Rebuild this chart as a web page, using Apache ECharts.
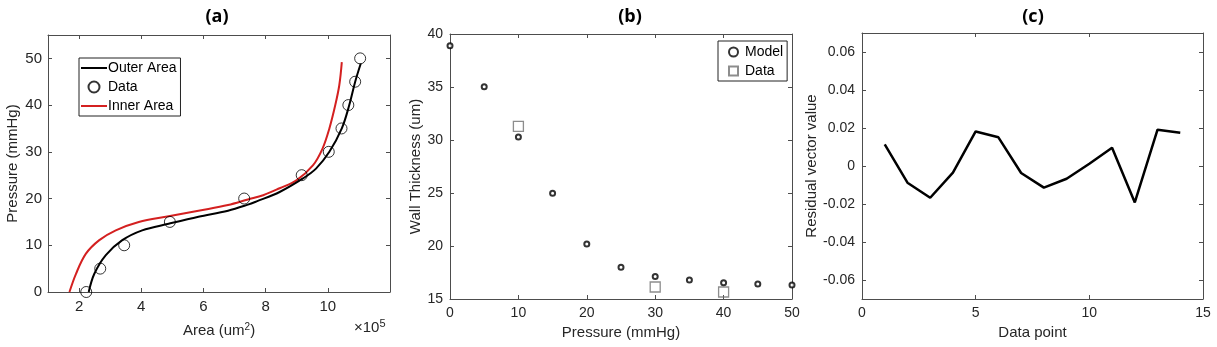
<!DOCTYPE html>
<html>
<head>
<meta charset="utf-8">
<script src="https://cdn.jsdelivr.net/npm/echarts@6/dist/echarts.min.js"></script>
<style>
  html, body { margin: 0; padding: 0; background: #fff; }
  #chart { width: 1217px; height: 347px; }
</style>
</head>
<body>
<div id="chart"></div>
<script>
// (a) pressure vs area (x in units of 1e5 um^2)
const dataArea = [2.23, 2.68, 3.45, 4.92, 7.31, 9.16, 10.03, 10.44, 10.66, 10.88, 11.04]
const dataPressure = [0, 5, 10, 15, 20, 25, 30, 35, 40, 45, 50]
const outerX = [2.31, 2.49, 2.86, 3.39, 4.03, 4.88, 5.84, 6.79, 7.43, 7.71, 8.45, 9.2, 9.62, 10.05, 10.45, 10.69, 10.88, 11.06]
const outerY = [0, 3.9, 7.9, 11.1, 13.2, 14.6, 16.1, 17.4, 18.7, 19.4, 21.4, 24.3, 26.4, 30, 35, 40, 45, 48.9]
const innerX = [1.69, 1.9, 2.22, 2.65, 3.18, 3.92, 4.88, 5.84, 6.79, 7.43, 7.92, 8.45, 8.99, 9.52, 9.83, 10.05, 10.24, 10.37, 10.45]
const innerY = [0, 3.9, 8.2, 11.1, 13.2, 15, 16.2, 17.4, 18.6, 19.8, 20.7, 22.2, 23.9, 27.1, 30.7, 35, 40, 44.3, 49.2]

// (b) wall thickness vs pressure
const modelPressure = [0, 5, 10, 15, 20, 25, 30, 35, 40, 45, 50]
const modelThickness = [38.9, 35.03, 30.28, 24.97, 20.2, 18.0, 17.13, 16.79, 16.54, 16.41, 16.31]
const measPressure = [10, 30, 40]
const measThickness = [31.28, 16.13, 15.66]

// (c) residuals
const pointIndex = [1, 2, 3, 4, 5, 6, 7, 8, 9, 10, 11, 12, 13, 14]
const residual = [0.0114, -0.0088, -0.0167, -0.0035, 0.0182, 0.0151, -0.0037, -0.0114, -0.0067, 0.0012, 0.0096, -0.0192, 0.0191, 0.0175]

// tick labels
const ticksAX = [2, 4, 6, 8, 10]
const ticksAY = [0, 10, 20, 30, 40, 50]
const ticksBX = [0, 10, 20, 30, 40, 50]
const ticksBY = [15, 20, 25, 30, 35, 40]
const ticksCX = [0, 5, 10, 15]
const ticksCY = [-0.06, -0.04, -0.02, 0, 0.02, 0.04, 0.06]

const font = 'Liberation Sans, Arial, sans-serif'
const axisCol = '#4d4d4d'
const textCol = '#262626'

const zip = (a, b) => a.map((v, i) => [v, b[i]])

const mainAxis = (gridIndex, position, min, max, ticks, extra) => Object.assign({
  type: 'value',
  gridIndex,
  position,
  min,
  max,
  splitLine: { show: false },
  axisLine: { show: true, onZero: false, lineStyle: { color: axisCol, width: 1 } },
  axisTick: { show: true, inside: true, length: 4, customValues: ticks, lineStyle: { color: axisCol } },
  axisLabel: { show: true, customValues: ticks, color: textCol, fontFamily: font, fontSize: 14, margin: 7 },
  nameLocation: 'middle',
  nameTextStyle: { color: textCol, fontFamily: font, fontSize: 15 },
}, extra || {})

// box edges on top / right, ticks only
const mirrorAxis = (gridIndex, position, min, max, ticks) => ({
  type: 'value',
  gridIndex,
  position,
  min,
  max,
  splitLine: { show: false },
  axisLine: { show: true, onZero: false, lineStyle: { color: axisCol, width: 1 } },
  axisTick: { show: true, inside: true, length: 4, customValues: ticks, lineStyle: { color: axisCol } },
  axisLabel: { show: false },
})

const chart = echarts.init(document.getElementById('chart'))

const titleStyle = { fontFamily: 'Open Sans, sans-serif', fontWeight: 'bold', fontSize: 18, color: '#000' }
const noMarker = { color: 'rgba(0,0,0,0)', borderWidth: 0, opacity: 0 }

const option = {
  animation: false,
  title: [
    { text: '(a)', left: 212, top: 3, textAlign: 'center', textStyle: titleStyle },
    { text: '(b)', left: 625, top: 3, textAlign: 'center', textStyle: titleStyle },
    { text: '(c)', left: 1028, top: 3, textAlign: 'center', textStyle: titleStyle },
  ],
  legend: [
    {
      data: [
        { name: 'Outer Area', itemStyle: noMarker },
        { name: 'Data' },
        { name: 'Inner Area', itemStyle: noMarker },
      ],
      orient: 'vertical',
      left: 79,
      top: 58,
      itemWidth: 26,
      itemHeight: 11,
      itemGap: 5,
      padding: [3, 4, 3, 1],
      borderColor: '#222',
      borderWidth: 1,
      borderRadius: 0,
      backgroundColor: '#fff',
      textStyle: { fontFamily: font, fontSize: 14, color: '#000', padding: [0, 0, 0, -4] },
      selectedMode: false,
    },
    {
      data: ['Model', 'Data '],
      orient: 'vertical',
      left: 718,
      top: 41,
      itemWidth: 9,
      itemHeight: 9,
      itemGap: 5,
      padding: [4, 4, 3, 10],
      borderColor: '#222',
      borderWidth: 1,
      borderRadius: 0,
      backgroundColor: '#fff',
      textStyle: { fontFamily: font, fontSize: 14, color: '#000', padding: [0, 0, 0, 2] },
      selectedMode: false,
    },
  ],
  grid: [
    { left: 48, top: 35, width: 342, height: 257 },
    { left: 450, top: 34, width: 342, height: 265 },
    { left: 862, top: 33, width: 341, height: 266 },
  ],
  xAxis: [
    mainAxis(0, 'bottom', 1, 12, ticksAX, {
      name: 'Area (um{s|2})',
      nameGap: 30,
      axisLabel: { customValues: ticksAX, color: textCol, fontFamily: font, fontSize: 15, margin: 7 },
      nameTextStyle: {
        color: textCol, fontFamily: font, fontSize: 15,
        rich: { s: { fontFamily: font, fontSize: 10, color: textCol, verticalAlign: 'top', padding: [0, 0, 8, 0] } },
      },
    }),
    mainAxis(1, 'bottom', 0, 50, ticksBX, { name: 'Pressure (mmHg)', nameGap: 25 }),
    mainAxis(2, 'bottom', 0, 15, ticksCX, { name: 'Data point', nameGap: 25 }),
    mirrorAxis(0, 'top', 1, 12, ticksAX),
    mirrorAxis(1, 'top', 0, 50, ticksBX),
    mirrorAxis(2, 'top', 0, 15, ticksCX),
  ],
  yAxis: [
    mainAxis(0, 'left', 0, 55, ticksAY, { name: 'Pressure (mmHg)', nameGap: 28, axisLabel: { customValues: ticksAY, color: textCol, fontFamily: font, fontSize: 15, margin: 6 } }),
    mainAxis(1, 'left', 15, 40, ticksBY, { name: 'Wall Thickness (um)', nameGap: 26 }),
    mainAxis(2, 'left', -0.07, 0.07, ticksCY, { name: 'Residual vector value', nameGap: 43 }),
    mirrorAxis(0, 'right', 0, 55, ticksAY),
    mirrorAxis(1, 'right', 15, 40, ticksBY),
    mirrorAxis(2, 'right', -0.07, 0.07, ticksCY),
  ],
  graphic: [
    {
      type: 'text',
      left: 354,
      top: 318,
      style: {
        text: '×10{s|5}',
        fontFamily: font,
        fontSize: 15,
        fill: textCol,
        rich: { s: { fontFamily: font, fontSize: 11, fill: textCol, verticalAlign: 'top', padding: [0, 0, 8, 0] } },
      },
    },
  ],
  series: [
    {
      name: 'Outer Area',
      type: 'line',
      xAxisIndex: 0,
      yAxisIndex: 0,
      data: zip(outerX, outerY),
      smooth: 0.35,
      symbol: 'none',
      lineStyle: { color: '#000', width: 2 },
      itemStyle: { color: '#000' },
      z: 3,
    },
    {
      name: 'Data',
      type: 'scatter',
      xAxisIndex: 0,
      yAxisIndex: 0,
      data: zip(dataArea, dataPressure),
      symbol: 'circle',
      symbolSize: 11,
      itemStyle: { color: 'rgba(0,0,0,0)', borderColor: '#000', borderWidth: 1 },
      z: 4,
    },
    {
      name: 'Inner Area',
      type: 'line',
      xAxisIndex: 0,
      yAxisIndex: 0,
      data: zip(innerX, innerY),
      smooth: 0.35,
      symbol: 'none',
      lineStyle: { color: '#d42020', width: 2 },
      itemStyle: { color: '#d42020' },
      z: 2,
    },
    {
      name: 'Model',
      type: 'scatter',
      xAxisIndex: 1,
      yAxisIndex: 1,
      data: zip(modelPressure, modelThickness),
      symbol: 'circle',
      symbolSize: 5,
      itemStyle: { color: '#fff', borderColor: '#000', borderWidth: 2 },
      z: 4,
    },
    {
      name: 'Data ',
      type: 'scatter',
      xAxisIndex: 1,
      yAxisIndex: 1,
      data: zip(measPressure, measThickness),
      symbol: 'rect',
      symbolSize: 10,
      itemStyle: { color: 'rgba(0,0,0,0)', borderColor: '#707070', borderWidth: 1.3 },
      z: 3,
    },
    {
      name: 'Residual',
      type: 'line',
      xAxisIndex: 2,
      yAxisIndex: 2,
      data: zip(pointIndex, residual),
      symbol: 'none',
      lineStyle: { color: '#000', width: 2.5 },
    },
  ],
}

chart.setOption(option)
</script>
</body>
</html>
